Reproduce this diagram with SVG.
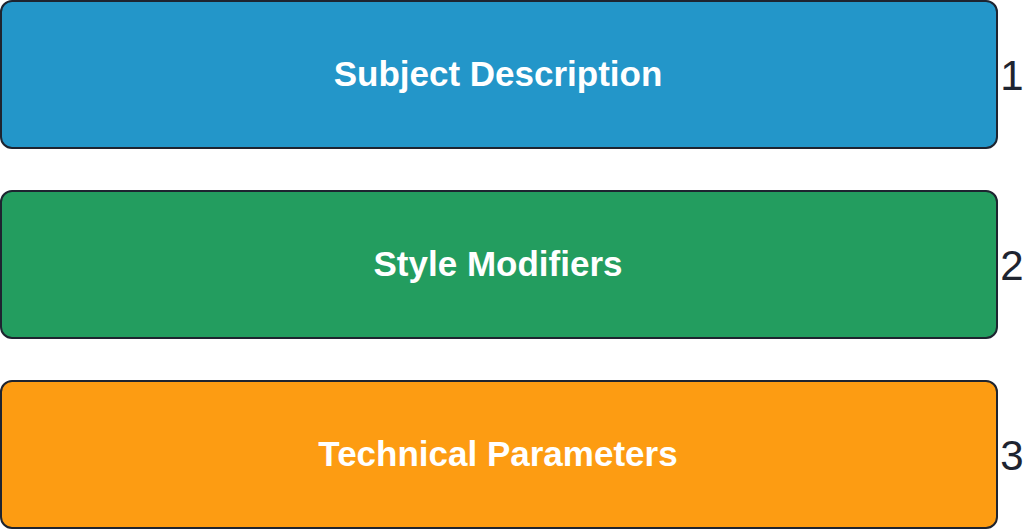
<svg xmlns="http://www.w3.org/2000/svg" width="1024" height="530" viewBox="0 0 1024 530">
<style>
.box{stroke:#1e2430;stroke-width:2}
.lbl{font-family:"Liberation Sans",Arial,sans-serif;font-weight:bold;font-size:35px;fill:#ffffff;text-anchor:middle}
.num{font-family:"Liberation Sans",Arial,sans-serif;font-size:42px;fill:#1e2430;text-anchor:middle}
</style>
<rect width="1024" height="530" fill="#ffffff"/>
<g id="node1"><rect class="box" x="1" y="1" width="996" height="147" rx="11" fill="#2396c9"/><text class="lbl" x="498" y="86">Subject Description</text><text class="num" x="1012" y="90">1</text></g>
<g id="node2"><rect class="box" x="1" y="191" width="996" height="147" rx="11" fill="#239d5f"/><text class="lbl" x="498" y="276">Style Modifiers</text><text class="num" x="1012" y="280">2</text></g>
<g id="node3"><rect class="box" x="1" y="381" width="996" height="147" rx="11" fill="#fd9c12"/><text class="lbl" x="498" y="466">Technical Parameters</text><text class="num" x="1012" y="470">3</text></g>
<g id="connectors"/>
</svg>
